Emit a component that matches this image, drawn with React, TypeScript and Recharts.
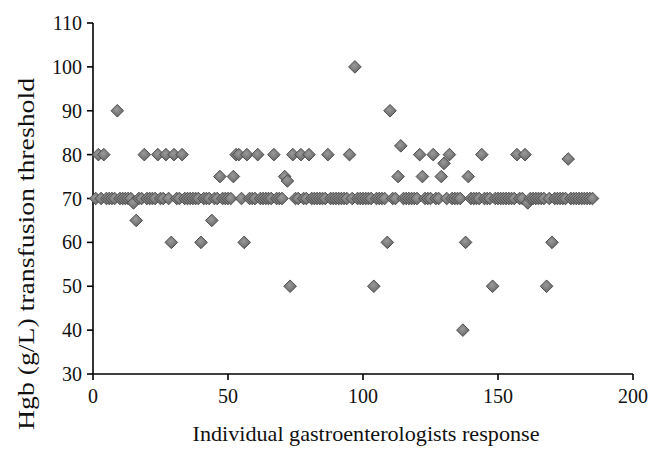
import React from "react";
import { ScatterChart, Scatter, XAxis, YAxis, Label } from "recharts";

// Hgb transfusion threshold (g/L) given by each gastroenterologist, responses 1..185
const thresholds: number[] = [
  70, 80, 70, 80, 70, 70, 70, 70, 90, 70,
  70, 70, 70, 70, 69, 65, 70, 70, 80, 70,
  70, 70, 70, 80, 70, 70, 80, 70, 60, 80,
  70, 70, 80, 70, 70, 70, 70, 70, 70, 60,
  70, 70, 70, 65, 70, 70, 75, 70, 70, 70,
  70, 75, 80, 80, 70, 60, 80, 70, 70, 70,
  80, 70, 70, 70, 70, 70, 80, 70, 70, 70,
  75, 74, 50, 80, 70, 70, 80, 70, 70, 80,
  70, 70, 70, 70, 70, 70, 80, 70, 70, 70,
  70, 70, 70, 70, 80, 70, 100, 70, 70, 70,
  70, 70, 70, 50, 70, 70, 70, 70, 60, 90,
  70, 70, 75, 82, 70, 70, 70, 70, 70, 70,
  80, 75, 70, 70, 70, 80, 70, 70, 75, 78,
  70, 80, 70, 70, 70, 70, 40, 60, 75, 70,
  70, 70, 70, 80, 70, 70, 70, 50, 70, 70,
  70, 70, 70, 70, 70, 70, 80, 70, 70, 80,
  69, 70, 70, 70, 70, 70, 70, 50, 70, 60,
  70, 70, 70, 70, 70, 79, 70, 70, 70, 70,
  70, 70, 70, 70, 70,
];

const xTicks = [0, 50, 100, 150, 200];
const yTicks = [30, 40, 50, 60, 70, 80, 90, 100, 110];

const xTitle = "Individual gastroenterologists response";
const yTitle = "Hgb (g/L) transfusion threshold";

const data = thresholds.map((v, i) => ({ response: i + 1, hgb: v }));

const FONT = "'Liberation Serif', 'Times New Roman', serif";

const Diamond = (props: any) => {
  const { cx, cy } = props;
  if (cx == null || cy == null) return null;
  const r = 6.3;
  return (
    <polygon
      points={`${cx},${cy - r} ${cx + r},${cy} ${cx},${cy + r} ${cx - r},${cy}`}
      fill="url(#diamondFill)"
      stroke="#4f4f4f"
      strokeWidth={1}
    />
  );
};

const YTitle = () => {
  const x = 18.5;
  const y = 246;
  return (
    <text
      x={x}
      y={y}
      transform={`rotate(-90, ${x}, ${y})`}
      textAnchor="middle"
      dominantBaseline="central"
      fontFamily={FONT}
      fontSize={23}
      textLength={352}
      lengthAdjust="spacingAndGlyphs"
      fill="#111"
    >
      {yTitle}
    </text>
  );
};

const XTitle = () => {
  const x = 358;
  const y = 425;
  return (
    <text
      x={x}
      y={y}
      textAnchor="middle"
      dominantBaseline="central"
      fontFamily={FONT}
      fontSize={22}
      textLength={347}
      lengthAdjust="spacingAndGlyphs"
      fill="#111"
    >
      {xTitle}
    </text>
  );
};

export default function App() {
  return (
    <div style={{ width: 646, height: 441, background: "#fff" }}>
      <ScatterChart
        width={646}
        height={441}
        margin={{ top: 15, right: 21, bottom: 0, left: 0 }}
      >
        <defs>
          <radialGradient id="diamondFill" cx="45%" cy="40%" r="60%">
            <stop offset="0%" stopColor="#9a9a9a" />
            <stop offset="100%" stopColor="#666666" />
          </radialGradient>
        </defs>
        <XAxis
          type="number"
          dataKey="response"
          domain={[0, 200]}
          ticks={xTicks}
          interval={0}
          height={75}
          tickSize={6}
          tickMargin={9}
          axisLine={{ stroke: "#000", strokeWidth: 1.6 }}
          tickLine={{ stroke: "#000", strokeWidth: 1.6 }}
          tick={{ fontFamily: FONT, fontSize: 20, fill: "#111" }}
        >
          <Label content={<XTitle />} />
        </XAxis>
        <YAxis
          type="number"
          dataKey="hgb"
          domain={[30, 110]}
          ticks={yTicks}
          interval={0}
          width={85}
          tickSize={6}
          tickMargin={5}
          axisLine={{ stroke: "#000", strokeWidth: 1.6 }}
          tickLine={{ stroke: "#000", strokeWidth: 1.6 }}
          tick={{ fontFamily: FONT, fontSize: 20, fill: "#111" }}
        >
          <Label content={<YTitle />} />
        </YAxis>
        <Scatter
          data={data}
          shape={<Diamond />}
          isAnimationActive={false}
        />
      </ScatterChart>
    </div>
  );
}
